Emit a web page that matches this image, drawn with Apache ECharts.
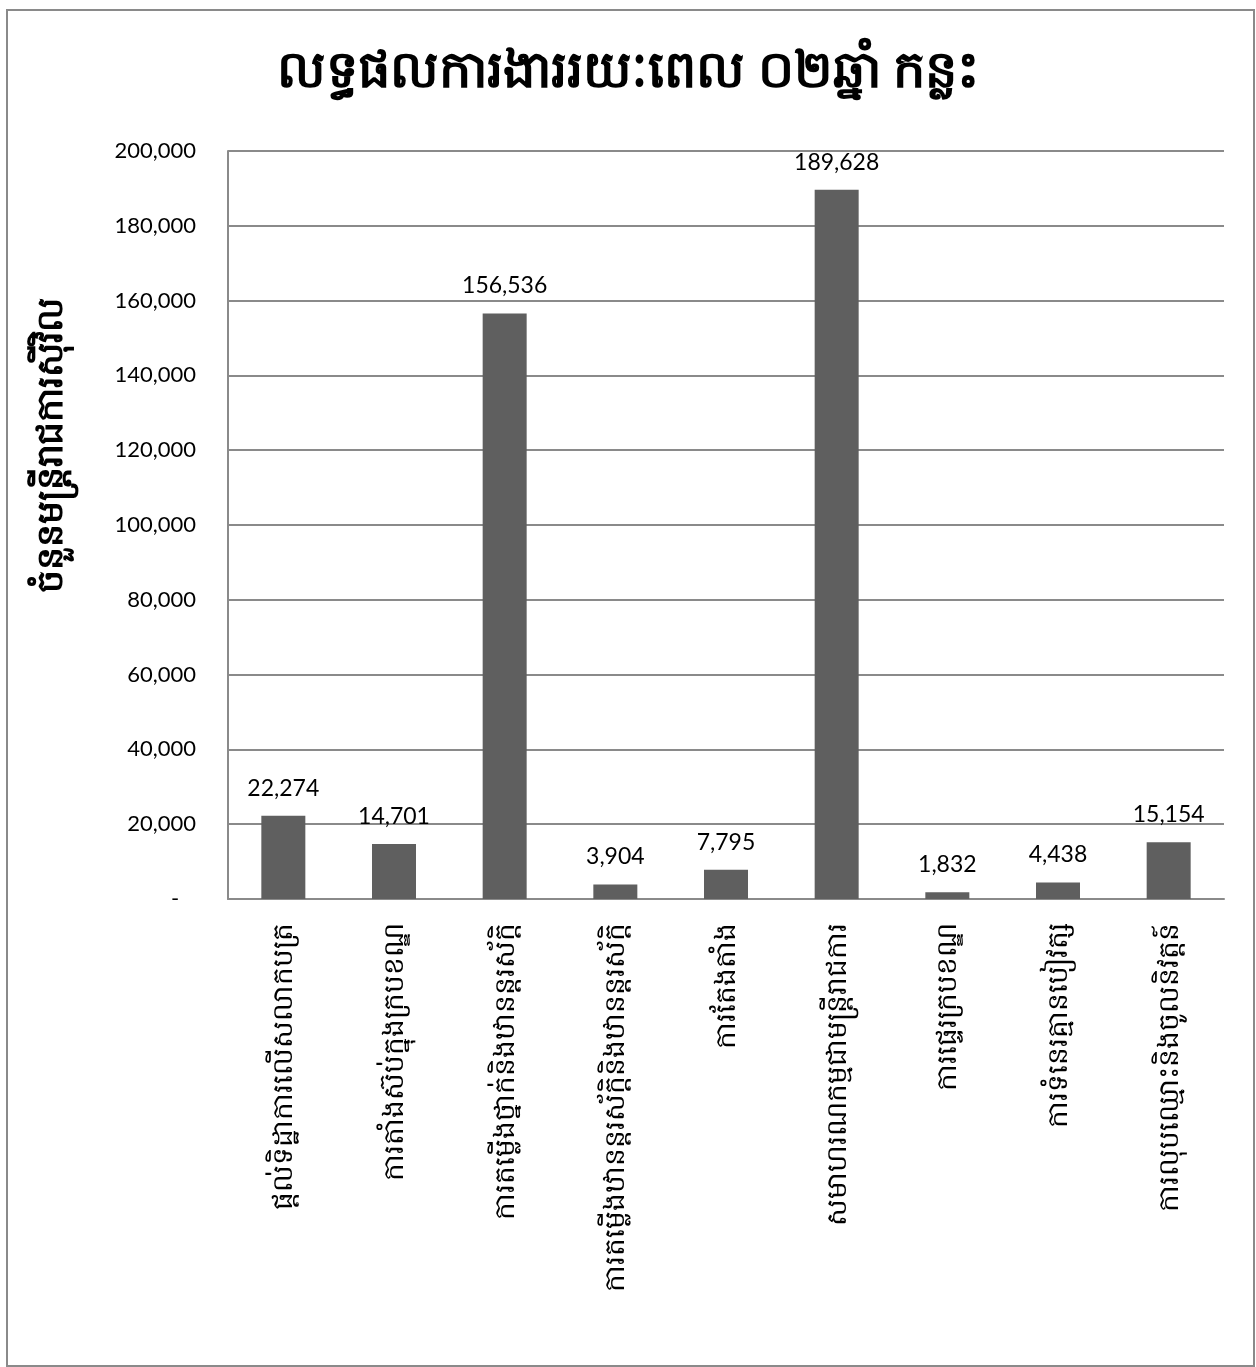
<!DOCTYPE html>
<html>
<head>
<meta charset="utf-8">
<script src="https://cdn.jsdelivr.net/npm/echarts@6/dist/echarts.min.js"></script>
<style>
  html, body { margin: 0; padding: 0; background: #fff; }
  #chart { width: 1256px; height: 1367px; }
</style>
</head>
<body>
<div id="chart"></div>
<script>
// 9 categories, official work results over 2.5 years
const categories = [
    'ផ្តល់ទិដ្ឋាការលើសលាកបត្រ',
    'ការតាំងស៊ប់ក្នុងក្របខណ្ឌ',
    'ការតម្លើងថ្នាក់និងឋានន្តរស័ក្តិ',
    'ការតម្លើងឋានន្តរស័ក្តិនិងឋានន្តរស័ក្តិ',
    'ការតែងតាំង',
    'សមាហរណកម្មជាមន្ត្រីរាជការ',
    'ការផ្ទេរក្របខណ្ឌ',
    'ការទំនេរគ្មានបៀវត្ស',
    'ការលុបឈ្មោះនិងចូលនិវត្តន៍'
];
const values = [22274, 14701, 156536, 3904, 7795, 189628, 1832, 4438, 15154];
const yTicks = [0, 20000, 40000, 60000, 80000, 100000, 120000, 140000, 160000, 180000, 200000];

const titleText = 'លទ្ធផលការងាររយៈពេល ០២ឆ្នាំ កន្លះ';
const yName = 'ចំនួនមន្ត្រីរាជការស៊ីវិល';

const font = 'Lato, "Noto Sans", "DejaVu Sans", sans-serif';

const chart = echarts.init(document.getElementById('chart'), null, { renderer: 'canvas' });

const fmt = v => v === 0 ? '-   ' : v.toLocaleString('en-US');

chart.setOption({
    backgroundColor: '#fff',
    animation: false,
    title: {
        text: titleText,
        left: 'center',
        top: 40,
        textStyle: { fontSize: 51, fontWeight: 'bold', color: '#000', fontFamily: font }
    },
    graphic: [{
        type: 'rect',
        shape: { x: 7, y: 10, width: 1247, height: 1356 },
        style: { fill: 'none', stroke: '#8a8a8a', lineWidth: 2 },
        silent: true
    }, {
        type: 'text',
        x: 50,
        y: 445,
        rotation: Math.PI / 2,
        style: {
            text: yName,
            align: 'center',
            verticalAlign: 'middle',
            font: 'bold 36px ' + font,
            fill: '#000'
        },
        silent: true
    }],
    grid: { left: 228, right: 32, top: 151, bottom: 468 },
    xAxis: {
        type: 'category',
        data: categories,
        axisLine: { lineStyle: { color: '#8a8a8a', width: 2 } },
        axisTick: { show: false },
        axisLabel: {
            rotate: 90,
            interval: 0,
            margin: 24,
            fontSize: 28,
            color: '#000',
            fontFamily: font
        }
    },
    yAxis: {
        type: 'value',
        min: yTicks[0],
        max: yTicks[yTicks.length - 1],
        interval: yTicks[1] - yTicks[0],
        axisLine: { show: true, lineStyle: { color: '#8a8a8a', width: 2 } },
        axisTick: { show: false },
        splitLine: { lineStyle: { color: '#8a8a8a', width: 2 } },
        axisLabel: {
            fontSize: 22,
            color: '#000',
            margin: 32,
            fontFamily: font,
            formatter: fmt
        }
    },
    series: [{
        type: 'bar',
        data: values,
        barWidth: 44,
        itemStyle: { color: '#5f5f5f' },
        label: {
            show: true,
            position: 'top',
            distance: 16,
            fontSize: 23,
            color: '#000',
            fontFamily: font,
            formatter: p => fmt(p.value)
        }
    }]
});
</script>
</body>
</html>
